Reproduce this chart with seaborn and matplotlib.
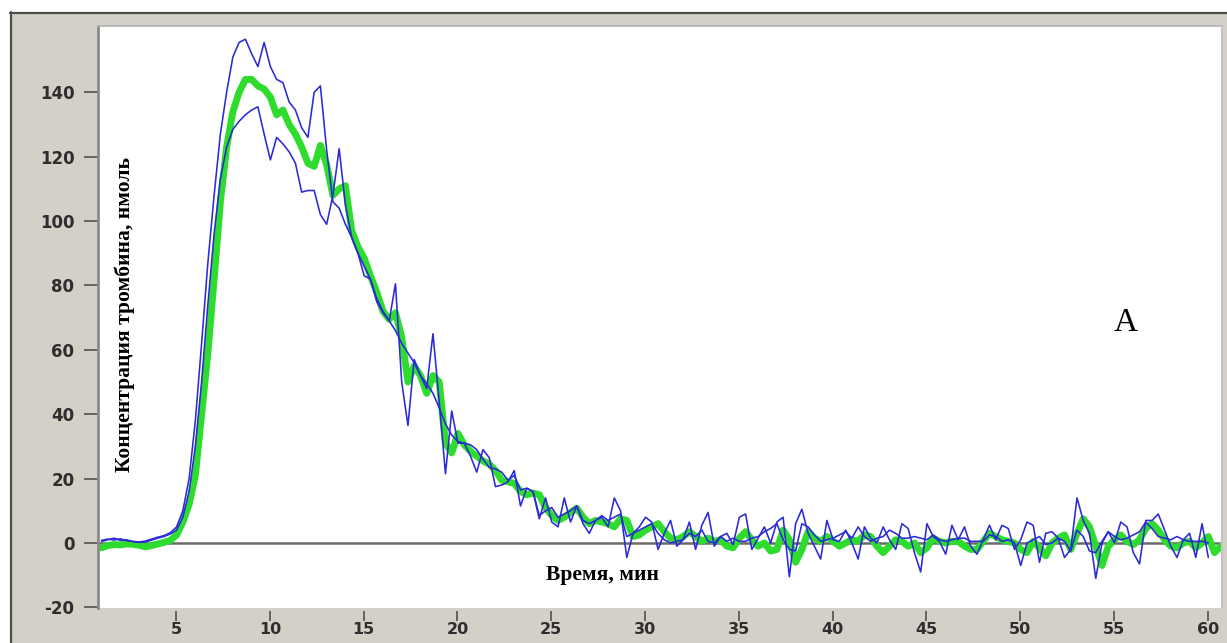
import numpy as np
import pandas as pd
import matplotlib
matplotlib.use("Agg")
import matplotlib.pyplot as plt
import seaborn as sns
from matplotlib.patches import Rectangle
from matplotlib.lines import Line2D

# Thrombin generation curves, sampled every 20 s (1/3 min)
SAMPLE_START = 1.03   # min
SAMPLE_STEP = 1 / 3   # min

# Averaged curve (thick green), nM
mean_curve = [
    -1.5, -0.8, -0.5, -0.6, -0.3, -0.4, -0.7, -1.2, -0.8, -0.3, 0.2,
    0.8, 2.5, 6.5, 12, 21, 40, 59, 82, 106, 123,
    134, 140, 144, 144, 142, 141, 138.5, 133, 134.5, 130,
    127, 123, 118, 117, 123.5,
    117.5, 108, 110, 111, 97, 92, 88.5, 83, 78, 72,
    69.5, 71.5, 64, 50, 55, 52, 46.5, 52, 50, 31,
    28, 34, 30.5, 28.5,
    27, 25.5, 24.5, 22.5, 19.5, 19, 18.5, 16, 15, 15.5,
    15, 11, 8.5, 7, 8, 9.5, 10.8, 8, 6, 7,
    6.5, 6, 5, 7.5, 7, 2, 2.5, 4, 5, 6,
    3.5, 1.5, 1, 2, 3.5, 2, 0.5, 1.5, 0.5, 1,
    -1, -1.5, 1.5, 3.5, 1, -1, 0, -2.5, -2, 4,
    1, -6, -2, 3.5, 1.5, 0.5, 2, 0.5, -1, 0,
    1, 0.5, 2.5, 2, -1, -3, -1, 1, 0.5, -1,
    0, -3, -1.5, 1.5,
    0.5, 0, 0.5, 0.5, -1, -2, -2, 0.5, 3, 2,
    1, 0.5, 0, -2, -3, 0.5, -1.5, -4, 0, 1.5,
    2.5, -2, 3, 7.5, 5, -1, -7, -1, 1, 2.5,
    0.5, -0.5, 1, 4.5, 6, 4, 1, -1, -1.5, 0,
    0.5, -1.5, 0, 2, -3, -1,
]

# Individual runs (thin blue), nM
run_a = [
    0.8, 1.2, 0.9, 1.3, 0.7, 0.5, 0.3, 0.6, 1.2, 1.8, 2.3,
    3.2, 5, 10, 20, 38, 62, 87, 108, 127, 140,
    151, 155.5, 156.5, 152, 148, 155.5, 148, 144, 143, 137,
    134.5, 129, 126, 140, 142,
    122, 106, 104, 99, 95, 90, 86, 82, 75, 71.5,
    69, 66, 62, 59, 56, 52, 49.5, 46.5, 42, 37,
    33.5, 31.5, 31, 30.5,
    29, 26, 23.5, 23, 22, 19.5, 21, 16.5, 17, 16,
    8.5, 10, 11, 8, 9, 10, 11.5, 7, 6, 7,
    8.5, 7, 8, 9, 2, 3, 4, 5, 6, 3,
    1, 0, 0.5, 1, 3, 2, 4, 0.5, 0, 2,
    0.5, 1.5, 0.5, 0.5, 1.5, 2, 3.5, 4.5, 6, 1,
    -2, -2.5, 6, 5, 2.5, 0.5, 1, 1.5, 2.5, 3.5,
    1.5, 5, 2, 0.5, 1.5, 2, 4, 3, 1.5, 1.5,
    2, 1.5, 1, 2.5,
    1, 0.5, 1, 1.5, 1.5, 0.5, 0.5, 0.5, 2.5, 2,
    0.5, 1, 0, -7, 0, 1, 2, -0.5, 0, 1.5,
    0.5, -2.5, 4, 2, -2.5, -3, 0.5, 3.5, 2, 1,
    1.5, 2.5, 3.5, 6.5, 4.5, 2, 1.5, 1, 2, 1,
    0.5, 0.5, 0.5, 0,
]

run_b = [
    0.5, 1.0, 1.5, 0.8, 1.0, 0.4, 0.2, 0.3, 0.9, 1.5, 2.0,
    2.8, 4, 8, 16, 30, 50, 74, 96, 113, 123,
    128.5, 131, 133, 134.5, 135.5, 127, 119, 126, 124, 121.5,
    118, 109, 109.5, 109.5, 102,
    99, 108, 122.5, 105, 95, 90, 83, 82, 76, 72,
    69, 80.5, 50, 36.5, 57, 52, 48, 65, 44, 21.5,
    41, 31, 31, 27,
    22, 29, 26.5, 17.5, 18, 19, 22.5, 11.5, 17, 16,
    7.5, 14, 6.5, 5, 14, 6.5, 11.5, 6, 3, 7,
    8, 5, 14, 10, -4.5, 3, 5, 8, 6.5, -2,
    3, 7, -1, 1, 6.5, -2, 5.5, 9.5, -1, 2,
    3, -0.5, 8, 9, -2, 1.5, 5, 0, 6.5, 8,
    -10.5, 6, 10.5, 3, -1, -5, 7, 1, 0.5, 4,
    0, -5, 5, 1.5, 0, 5, 1, -2, 6, 4.5,
    -3, -9, 6, 2,
    0.5, -3.5, 5.5, 1, 5, -1, -3.5, 1, 5.5, 1,
    5.5, 4.5, -2, 1, 6.5, 5.5, -6, 3, 3.5, 1.5,
    -4.5, -2, 14, 7, 3, -11, 0, 3.5, 0, 6.5,
    5, -3, -6.5, 7, 7, 9, 4, -1, -4.5, 1,
    3, -4.5, 6, -4.5,
]

x_ticks = [5, 10, 15, 20, 25, 30, 35, 40, 45, 50, 55, 60]
y_ticks = [-20, 0, 20, 40, 60, 80, 100, 120, 140]
x_tick_labels = [str(v) for v in x_ticks]
y_tick_labels = [str(v) for v in y_ticks]

y_title = "Концентрация тромбина, нмоль"
x_title = "Время, мин"
panel_tag = "A"


def sample_times(n):
    return SAMPLE_START + SAMPLE_STEP * np.arange(n)


sns.set_style("white")
plt.rcParams["font.family"] = ["DejaVu Sans"]

W, H = 1227, 643
fig = plt.figure(figsize=(W / 100, H / 100), dpi=100)
fig.patch.set_facecolor("white")


def fx(px):
    return px / W


def fy(py):
    return 1 - py / H


# grey window panel with its dark border
fig.add_artist(Rectangle((fx(10), 0), 1 - fx(10), fy(12), transform=fig.transFigure,
                         facecolor="#d4d0c8", edgecolor="none", zorder=-5))
fig.add_artist(Line2D([fx(10), 1], [fy(12.5), fy(12.5)], transform=fig.transFigure,
                      color="#4d4d4d", lw=1.6, zorder=-4))
fig.add_artist(Line2D([fx(10.5), fx(10.5)], [0, fy(12)], transform=fig.transFigure,
                      color="#4d4d4d", lw=1.6, zorder=-4))

ax = fig.add_axes([fx(98), fy(608), fx(1222) - fx(98), fy(26) - fy(608)])
ax.set_facecolor("white")

# frame: hidden bottom spine pushed down so the x ticks sit just below the plot
ax.spines["bottom"].set_position(("outward", 2.2))
ax.spines["bottom"].set_visible(False)
ax.spines["left"].set_color("#8a8a8a")
ax.spines["left"].set_linewidth(2)
ax.spines["top"].set_color("#b4b4b4")
ax.spines["top"].set_linewidth(1.2)
ax.spines["right"].set_color("#c4c4c4")
ax.spines["right"].set_linewidth(1.5)

ax.axhline(0, color="#6a6a6a", lw=1.8, zorder=1)

green_df = pd.DataFrame({"t": sample_times(len(mean_curve)), "v": mean_curve})
a_df = pd.DataFrame({"t": sample_times(len(run_a)), "v": run_a})
b_df = pd.DataFrame({"t": sample_times(len(run_b)), "v": run_b})

sns.lineplot(data=green_df, x="t", y="v", ax=ax, color="#2edc2e", linewidth=5.0,
             sort=False, estimator=None, solid_capstyle="round",
             solid_joinstyle="round", zorder=2)
for df in (a_df, b_df):
    sns.lineplot(data=df, x="t", y="v", ax=ax, color="#2a2ad6", linewidth=1.15,
                 sort=False, estimator=None, solid_joinstyle="round", zorder=3)

ax.set_xlim(0.84, 60.76)
ax.set_ylim(-20.2, 160.6)
ax.set_xlabel("")
ax.set_ylabel("")

ax.tick_params(axis="both", direction="out", color="#5a5a5a", labelcolor="#2e2e2e",
               width=1.3, bottom=True, left=True, top=False, right=False)
ax.tick_params(axis="y", length=10, pad=7, labelsize=12)
ax.tick_params(axis="x", length=7, pad=1, labelsize=11.5)
ax.set_xticks(x_ticks, labels=x_tick_labels)
ax.set_yticks(y_ticks, labels=y_tick_labels)
for lbl in ax.get_xticklabels() + ax.get_yticklabels():
    lbl.set_fontweight("bold")

serif = ["Liberation Serif", "DejaVu Serif"]
fig.text(fx(125), fy(314), y_title, rotation=90, ha="center", va="center",
         family=serif, fontweight="bold", fontsize=15.5, color="black")
fig.text(fx(602), fy(575), x_title, ha="center", va="center",
         family=serif, fontweight="bold", fontsize=15.5, color="black")
fig.text(fx(1126), fy(323), panel_tag, ha="center", va="center",
         family=serif, fontweight="normal", fontsize=24, color="black")

fig.savefig("out.png", dpi=100)
